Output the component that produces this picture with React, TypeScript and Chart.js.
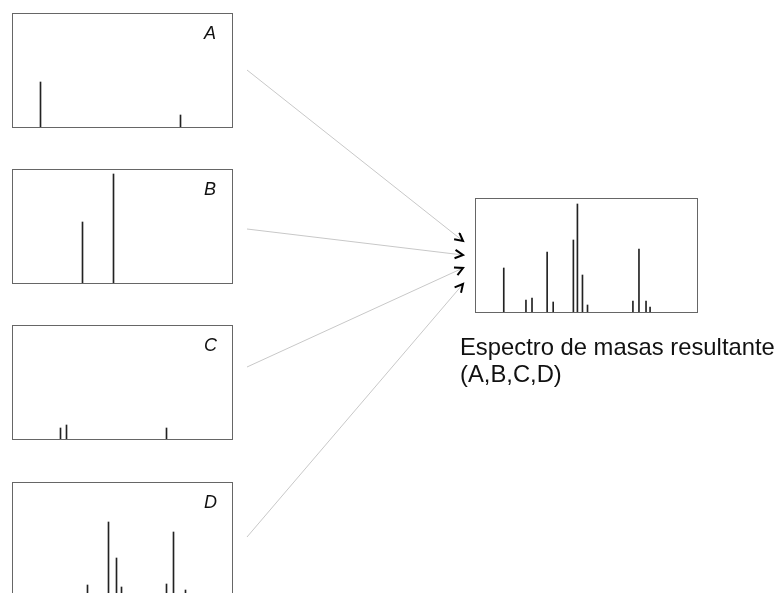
import React, { useEffect, useRef } from "react";
import { Chart, registerables } from "chart.js";

Chart.register(...registerables);

// ---- data (m/z positions and relative intensities) ----
const mzA = [28, 168];
const intA = [46, 13];

const mzB = [70, 101];
const intB = [62, 110];

const mzC = [48, 54, 154];
const intC = [12, 15, 12];

const mzD = [75, 96, 104, 109, 154, 161, 173];
const intD = [12, 75, 39, 10, 13, 65, 7];

const mzSum = [28, 50, 56, 71, 77, 97, 101, 106, 111, 156, 162, 169, 173];
const intSum = [45, 13, 15, 61, 11, 73, 109, 38, 8, 12, 64, 12, 6];

const panelLabels = ["A", "B", "C", "D"];
const resultCaption = ["Espectro de masas resultante", "(A,B,C,D)"];

const mzMin = -0.5;
const mzMax = 220.5;
const intMax = 115;

// ---- layout ----
const SMALL_LEFT = 12;
const SMALL_W = 221;
const SMALL_H = 115;
const smallTops = [13, 169, 325, 482];
const BIG = { left: 475, top: 198, width: 223, height: 115 };

const framePlugin = {
  id: "frame",
  afterDraw(chart: any) {
    const { ctx, chartArea } = chart;
    const { left, top, right, bottom } = chartArea;
    ctx.save();
    ctx.strokeStyle = "#666";
    ctx.lineWidth = 1;
    ctx.strokeRect(left + 0.5, top + 0.5, right - left - 1, bottom - top - 1);
    ctx.restore();
  },
};

function Spectrum(props: {
  mz: number[];
  intensity: number[];
  left: number;
  top: number;
  width: number;
  height: number;
  label?: string;
}) {
  const { mz, intensity, left, top, width, height, label } = props;
  const ref = useRef<HTMLCanvasElement | null>(null);
  useEffect(() => {
    if (!ref.current) return;
    const chart = new Chart(ref.current, {
      type: "bar",
      data: {
        datasets: [
          {
            data: mz.map((x, i) => ({ x, y: intensity[i] })) as any,
            backgroundColor: "#222",
            borderWidth: 0,
            barThickness: 1,
          },
        ],
      },
      options: {
        responsive: false,
        animation: false,
        events: [],
        layout: { padding: 0 },
        plugins: { legend: { display: false }, tooltip: { enabled: false } },
        scales: {
          x: {
            type: "linear",
            min: mzMin,
            max: mzMax,
            offset: false,
            display: false,
            grid: { offset: false },
          },
          y: { min: 0, max: intMax, display: false },
        },
      } as any,
      plugins: [framePlugin],
    });
    return () => chart.destroy();
  }, []);
  return (
    <>
      <canvas
        ref={ref}
        width={width}
        height={height}
        style={{ position: "absolute", left, top, width, height }}
      />
      {label ? (
        <div
          style={{
            position: "absolute",
            left: left + 192,
            top: top + 11,
            fontSize: 18,
            lineHeight: "18px",
            fontStyle: "italic",
            color: "#111",
          }}
        >
          {label}
        </div>
      ) : null}
    </>
  );
}

export default function App() {
  const spectra = [
    { mz: mzA, intensity: intA },
    { mz: mzB, intensity: intB },
    { mz: mzC, intensity: intC },
    { mz: mzD, intensity: intD },
  ];
  const startX = SMALL_LEFT + SMALL_W + 14;
  const starts = [57, 60, 42, 55].map((dy, i) => [startX, smallTops[i] + dy]);
  const ends = [241, 255, 268, 284].map((y) => [BIG.left - 12, y]);

  return (
    <div
      style={{
        position: "absolute",
        left: 0,
        top: 0,
        width: 781,
        height: 593,
        overflow: "hidden",
        background: "#fff",
        fontFamily: "Arial, 'Liberation Sans', sans-serif",
      }}
    >
      {spectra.map((s, i) => (
        <Spectrum
          key={i}
          mz={s.mz}
          intensity={s.intensity}
          left={SMALL_LEFT}
          top={smallTops[i]}
          width={SMALL_W}
          height={SMALL_H}
          label={panelLabels[i]}
        />
      ))}
      <Spectrum
        mz={mzSum}
        intensity={intSum}
        left={BIG.left}
        top={BIG.top}
        width={BIG.width}
        height={BIG.height}
      />
      <svg
        width={781}
        height={593}
        style={{ position: "absolute", left: 0, top: 0 }}
      >
        <defs>
          <marker
            id="chev"
            markerWidth={12}
            markerHeight={12}
            refX={9}
            refY={5}
            orient="auto"
            markerUnits="userSpaceOnUse"
          >
            <path d="M1,0.8 L9,5 L1,9.2" fill="none" stroke="#000" strokeWidth={2} />
          </marker>
        </defs>
        {starts.map((s, i) => (
          <line
            key={i}
            x1={s[0]}
            y1={s[1]}
            x2={ends[i][0]}
            y2={ends[i][1]}
            stroke="#c8c8c8"
            strokeWidth={1}
            markerEnd="url(#chev)"
          />
        ))}
      </svg>
      <div
        style={{
          position: "absolute",
          left: 460,
          top: 334,
          fontSize: 23.8,
          lineHeight: "26.5px",
          color: "#111",
          whiteSpace: "nowrap",
        }}
      >
        {resultCaption.map((t, i) => (
          <div key={i}>{t}</div>
        ))}
      </div>
    </div>
  );
}
